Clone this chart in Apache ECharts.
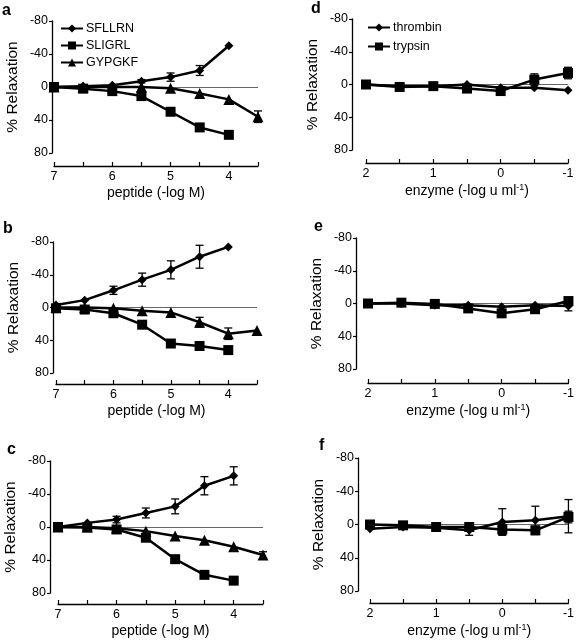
<!DOCTYPE html>
<html>
<head>
<meta charset="utf-8">
<script src="https://cdn.jsdelivr.net/npm/echarts@6/dist/echarts.min.js"></script>
<style>
html,body{margin:0;padding:0;background:#fff;}
#chart{width:577px;height:640px;}
</style>
</head>
<body>
<div id="chart"></div>
<script>
// ---- data ----
const peptideX = [7, 6.5, 6, 5.5, 5, 4.5, 4, 3.5];
const enzymeX = [2, 1.5, 1, 0.5, 0, -0.5, -1];
const peptideTicks = [7, 6, 5, 4];
const enzymeTicks = [2, 1, 0, -1];
const yTicks = [-80, -40, 0, 40, 80];

// panel a
const aSFLLRN = [0, -1, -2, -7, -12, -20, -50];
const aSFLLRNErr = [0, 0, 0, 2, 5, 6, 0];
const aSLIGRL = [0, 2, 5, 11, 30, 49, 58];
const aSLIGRLErr = [0, 0, 0, 0, 0, 0, 0];
const aGYPGKF = [0, 0, 0, 0, 1.5, 8, 15, 36];
const aGYPGKFErr = [0, 0, 0, 0, 0, 0, 0, 7];
// panel b
const bSFLLRN = [-3, -9, -21, -34, -46, -62, -74];
const bSFLLRNErr = [0, 0, 5, 8, 11, 14, 0];
const bSLIGRL = [1, 2.5, 7, 21, 44, 47, 52];
const bSLIGRLErr = [0, 0, 0, 0, 0, 0, 0];
const bGYPGKF = [0, 0, 1, 4, 6, 18, 32, 28];
const bGYPGKFErr = [0, 0, 0, 0, 0, 6, 7, 0];
// panel c
const cSFLLRN = [0, -5, -9, -17, -25, -50, -62];
const cSFLLRNErr = [0, 0, 4, 6, 9, 11, 11];
const cSLIGRL = [0, 0.5, 3, 13, 39, 58, 65];
const cSLIGRLErr = [0, 0, 0, 0, 0, 0, 0];
const cGYPGKF = [0, 0, 1.5, 5, 11, 16, 24, 34];
const cGYPGKFErr = [0, 0, 0, 0, 0, 0, 0, 4];
// panel d
const dThrombin = [0, 2, 2, 0, 4, 4, 7];
const dThrombinErr = [0, 0, 0, 0, 0, 0, 0];
const dTrypsin = [0, 3, 2, 5, 8, -6, -14];
const dTrypsinErr = [0, 0, 2, 0, 5, 7, 7];
// panel e
const eThrombin = [0, 0, 2, 2, 4, 2, 3];
const eThrombinErr = [0, 0, 2, 0, 0, 0, 6];
const eTrypsin = [0, -1, 0.5, 6, 12, 7, -3];
const eTrypsinErr = [0, 0, 0, 0, 0, 0, 0];
// panel f
const fThrombin = [5, 3, 4, 7, -3, -5, -10];
const fThrombinErr = [0, 0, 0, 6, 16, 17, 20];
const fTrypsin = [0, 1, 3, 3, 6, 7, -9];
const fTrypsinErr = [0, 0, 0, 0, 6, 5, 7];

const FONT = 'Liberation Sans, Arial, Helvetica, sans-serif';

// ---- layout ----
const panels = [
  {letter:'a', kind:'pep', grid:{left:54, top:21, width:204, height:132}, xOff:13, yOff:2, lx:2, ly:3},
  {letter:'b', kind:'pep', grid:{left:56, top:242, width:201, height:131}, xOff:11, yOff:3, lx:3, ly:221},
  {letter:'c', kind:'pep', grid:{left:58, top:461, width:205, height:132}, xOff:11, yOff:8, lx:7, ly:442},
  {letter:'d', kind:'enz', grid:{left:366, top:19, width:202, height:131}, xOff:13, yOff:14, lx:311, ly:1},
  {letter:'e', kind:'enz', grid:{left:368, top:238, width:202, height:131}, xOff:14, yOff:12, lx:314, ly:219},
  {letter:'f', kind:'enz', grid:{left:370, top:458, width:202, height:133}, xOff:12, yOff:12, lx:319, ly:438}
];

const peptideSets = [
  [[aSFLLRN,aSFLLRNErr],[aSLIGRL,aSLIGRLErr],[aGYPGKF,aGYPGKFErr]],
  [[bSFLLRN,bSFLLRNErr],[bSLIGRL,bSLIGRLErr],[bGYPGKF,bGYPGKFErr]],
  [[cSFLLRN,cSFLLRNErr],[cSLIGRL,cSLIGRLErr],[cGYPGKF,cGYPGKFErr]]
];
const enzymeSets = [
  [[dThrombin,dThrombinErr],[dTrypsin,dTrypsinErr]],
  [[eThrombin,eThrombinErr],[eTrypsin,eTrypsinErr]],
  [[fThrombin,fThrombinErr],[fTrypsin,fTrypsinErr]]
];
const pepNames = ['SFLLRN','SLIGRL','GYPGKF'];
const pepSymbols = [['diamond',9],['rect',10],['triangle',11]];
const enzNames = ['thrombin','trypsin'];
const enzSymbols = [['diamond',9],['rect',10]];

const grids = [], xAxes = [], yAxes = [], series = [], graphics = [];

function errSeries(idx, xs, ys, es) {
  const data = [];
  ys.forEach((v, i) => { if (es[i] > 0) data.push([xs[i], v, es[i]]); });
  return {
    type:'custom', xAxisIndex:idx, yAxisIndex:idx, silent:true, clip:false, z:3,
    data,
    renderItem(params, api) {
      const x = api.value(0), y = api.value(1), e = api.value(2);
      const p1 = api.coord([x, y - e]);
      const p2 = api.coord([x, y + e]);
      const w = 4;
      const st = {stroke:'#000', lineWidth:1.3};
      return {type:'group', children:[
        {type:'line', shape:{x1:p1[0], y1:p1[1], x2:p2[0], y2:p2[1]}, style:st},
        {type:'line', shape:{x1:p1[0]-w, y1:p1[1], x2:p1[0]+w, y2:p1[1]}, style:st},
        {type:'line', shape:{x1:p2[0]-w, y1:p2[1], x2:p2[0]+w, y2:p2[1]}, style:st}
      ]};
    }
  };
}

panels.forEach((p, idx) => {
  grids.push(Object.assign({containLabel:false}, p.grid));
  const isPep = p.kind === 'pep';
  xAxes.push({
    type:'value', gridIndex:idx, inverse:true, position:'bottom',
    min: isPep ? 3.5 : -1, max: isPep ? 7 : 2, interval:0.5,
    offset:p.xOff,
    name: isPep ? 'peptide (-log M)' : 'enzyme (-log u ml{sup|-1})',
    nameLocation:'middle', nameGap:20,
    nameTextStyle:{fontFamily:FONT, fontSize:14, color:'#000',
      rich:{sup:{fontSize:9, verticalAlign:'top', padding:[0,0,8,0], fontFamily:FONT, color:'#000'}}},
    axisLine:{onZero:false, lineStyle:{color:'#000', width:1.3}},
    axisTick:{inside:true, length:4, lineStyle:{color:'#000', width:1.2}},
    axisLabel:{margin:4, fontFamily:FONT, fontSize:12.5, color:'#000',
      formatter: v => ((isPep ? peptideTicks : enzymeTicks).indexOf(v) >= 0 ? String(v) : '')},
    splitLine:{show:false}
  });
  yAxes.push({
    type:'value', gridIndex:idx, inverse:true, position:'left', min:-80, max:80, interval:40,
    offset:p.yOff,
    name:'% Relaxation', nameLocation:'middle', nameGap:31,
    nameTextStyle:{fontFamily:FONT, fontSize:15.5, color:'#000'},
    axisLine:{show:true, onZero:false, lineStyle:{color:'#000', width:1.3}},
    axisTick:{show:true, length:3, lineStyle:{color:'#000', width:1.2}},
    axisLabel:{margin:4, fontFamily:FONT, fontSize:12.5, color:'#000',
      formatter: v => (yTicks.indexOf(v) >= 0 ? String(v) : '')},
    splitLine:{show:false}
  });
  graphics.push({type:'text', left:p.lx, top:p.ly,
    style:{text:p.letter, font:'bold 16px ' + FONT, fill:'#000'}});

  const sets = isPep ? peptideSets[idx] : enzymeSets[idx - 3];
  const xs = isPep ? peptideX : enzymeX;
  const names = isPep ? pepNames : enzNames;
  const syms = isPep ? pepSymbols : enzSymbols;
  sets.forEach((s, k) => {
    const ys = s[0], es = s[1];
    const ser = {
      type:'line', name:names[k], xAxisIndex:idx, yAxisIndex:idx,
      data: ys.map((v, i) => [xs[i], v]),
      symbol:syms[k][0], symbolSize:syms[k][1], showSymbol:true,
      lineStyle:{color:'#000', width:2.5}, itemStyle:{color:'#000'},
      clip:false, z:4, silent:true, animation:false
    };
    if (k === 0) {
      ser.markLine = {silent:true, symbol:['none','none'], animation:false,
        label:{show:false}, lineStyle:{color:'#666', width:1, type:'solid'},
        data:[{yAxis:0}], z:1};
    }
    series.push(ser);
    series.push(errSeries(idx, xs, ys, es));
  });
});

const chart = echarts.init(document.getElementById('chart'), null, {renderer:'canvas'});
chart.setOption({
  animation:false,
  backgroundColor:'#fff',
  textStyle:{fontFamily:FONT},
  grid:grids, xAxis:xAxes, yAxis:yAxes, series,
  graphic:graphics,
  legend:[
    {data:pepNames, orient:'vertical', left:55, top:17, itemGap:4, itemWidth:22, itemHeight:10,
     selectedMode:false, textStyle:{fontFamily:FONT, fontSize:12.5, color:'#000', padding:[0,0,0,-2]}},
    {data:enzNames, orient:'vertical', left:362, top:16, itemGap:6, itemWidth:22, itemHeight:10,
     selectedMode:false, textStyle:{fontFamily:FONT, fontSize:12.5, color:'#000', padding:[0,0,0,-2]}}
  ]
});
</script>
</body>
</html>
